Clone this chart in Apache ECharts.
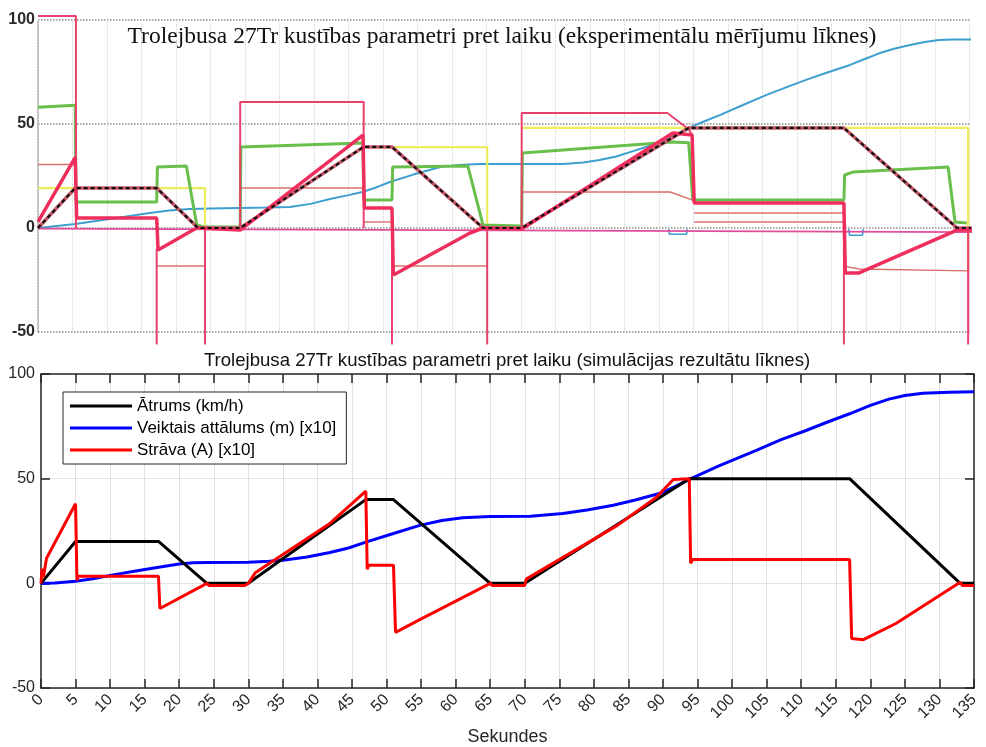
<!DOCTYPE html>
<html>
<head>
<meta charset="utf-8">
<title>Trolejbusa 27Tr kustības parametri</title>
<script src="https://cdn.jsdelivr.net/npm/echarts@6/dist/echarts.min.js"></script>
<style>
  html, body { margin: 0; padding: 0; background: #fff; }
  #chart { width: 986px; height: 747px; }
</style>
</head>
<body>
<div id="chart"></div>
<script>
// --- augšējais grafiks: eksperimentālās līknes (laiks s, vērtība) ---
const expSpeed = [[0, 0], [5.4, 19.2], [17.2, 19.2], [23.2, 0], [29.3, 0], [47.2, 39], [51.3, 39], [64.5, 0], [70.1, 0], [94.3, 48.1], [116.8, 48.1], [133.2, 0], [135.8, 0]]
const expCurrent = [[0, 3], [5.4, 34], [5.6, 4.8], [17.2, 4.8], [17.4, -10.6], [21.7, -2.4], [23, 0], [29.3, -1], [47.1, 44.7], [47.3, 9.6], [51.3, 9.6], [51.5, -22.6], [62.6, -2.4], [64.5, 0], [70.1, -0.5], [92, 45.7], [94.8, 44.7], [95.1, 12], [116.8, 12], [117, -21.6], [119, -21.6], [132.6, -1.9], [133, -1], [135.8, -1]]
const expGreen = [[0, 58], [5.4, 59], [5.5, 12.5], [17.2, 12.5], [17.3, 29.3], [21.5, 29.8], [23, 1.5], [24, 0.5], [29.3, 0.5], [29.4, 38.9], [47.1, 40.9], [47.2, 13.5], [51.3, 13.5], [51.4, 29.3], [62.3, 29.8], [64.5, 1.4], [70.1, 1], [70.2, 36.1], [91.9, 41.3], [94.3, 41], [94.9, 13.5], [116.8, 13.5], [116.9, 25.5], [118.1, 26.9], [131.9, 29.3], [132.9, 2.9], [134.6, 2.4]]
const expBlue = [[0, 0], [5.4, 1.9], [10.4, 4.3], [16.2, 7.2], [19, 8.4], [22, 9.1], [25, 9.4], [29.3, 9.6], [33, 9.8], [36.5, 10.1], [39.5, 11.6], [42.3, 13.9], [45, 15.8], [47, 17.3], [49, 19.5], [51, 22.1], [54.5, 25.8], [58.3, 29.3], [61, 30.3], [64.1, 30.8], [69.9, 30.8], [76.1, 30.8], [79, 31.5], [81.4, 32.7], [83.8, 34.4], [85.8, 36.5], [88, 38.8], [90.1, 41.3], [92.3, 44.6], [94.3, 48.1], [96.5, 51.2], [98.8, 54.3], [102, 58.9], [105.5, 63.9], [108.5, 67.7], [111.3, 71.2], [114.5, 74.9], [117.7, 78.4], [120, 81.5], [122, 84.1], [124.2, 86.3], [126.4, 88], [128.5, 89.4], [130.6, 90.4], [132.5, 90.6], [135.8, 90.6]]
const expBlueDips = [
  [[91.4, -0.5], [91.5, -3], [94, -3], [94.1, -0.5]],
  [[117.5, -0.5], [117.6, -3.5], [119.5, -3.5], [119.6, -0.5]]
]
const expZero = [[0, -0.3], [135.8, -2]]
const expYellow = [
  [[0, 19.2], [24.2, 19.2], [24.2, 0]],
  [[47.2, 38.9], [65.1, 38.9], [65.1, 0]],
  [[70.1, 48.1], [134.8, 48.1], [134.8, -20]]
]
const expBrown = [
  [[0, 30.5], [5.4, 30.5]],
  [[29.3, 19.2], [47.2, 19.2]],
  [[47.2, 2.9], [51.3, 2.9]],
  [[17.2, -18.3], [24.2, -18.3]],
  [[51.3, -18.3], [65.1, -18.3]],
  [[70.1, 17.3], [91.6, 17.3], [94.8, 13.5]],
  [[95.1, 7.2], [116.8, 7.2]],
  [[95.1, 2.9], [116.8, 2.9]],
  [[116.8, -18.3], [119, -19.7], [134.8, -20.6]]
]
const expPink = [
  [[0, 101.9], [5.5, 101.9], [5.5, 0]],
  [[29.3, 0], [29.3, 60.6], [47.2, 60.6], [47.2, 0]],
  [[70.1, 0], [70.1, 55.3], [91.2, 55.3], [94.3, 47.5], [94.8, 44.7]],
  [[17.2, -10], [17.2, -56]],
  [[24.2, 0], [24.2, -56]],
  [[51.3, 9.6], [51.3, -56]],
  [[65.1, 0], [65.1, -56]],
  [[116.8, 12], [116.8, -56]],
  [[134.8, 0], [134.8, -56]]
]

// --- apakšējais grafiks: simulācijas rezultāti ---
const simSpeed = [[0, 0], [5, 20], [17, 20], [24, 0], [30, 0], [47, 40], [51, 40], [65, 0], [70, 0], [93.8, 50], [117, 50], [133, 0], [135, 0]]
const simDistance = [[0, 0], [2, 0.2], [5, 1], [7.5, 2.2], [10, 3.8], [13.5, 5.8], [16.8, 7.6], [20, 9.2], [22, 9.8], [24, 10], [30, 10.1], [33, 10.5], [35, 11], [38.5, 12.6], [41.8, 14.7], [44.5, 16.9], [47, 19.7], [51, 23.8], [54.8, 27.7], [58, 30], [61, 31.3], [65, 31.9], [70.8, 32.1], [75.5, 33.4], [79, 35], [82.8, 37.3], [86, 39.8], [89.6, 43], [91.8, 46.3], [93.8, 49.7], [98, 56], [103.5, 63.5], [107, 68.5], [110.7, 73], [114, 77.3], [117, 81], [120, 85], [122.7, 88], [125, 89.7], [127.6, 90.8], [131.4, 91.3], [135, 91.5]]
const simCurrent = [[0, 0], [0.15, 7], [0.35, 3], [0.8, 12], [5, 38], [5.2, 1.5], [5.4, 3.4], [17, 3.4], [17.2, -12], [24, 0], [24.3, -1], [29.5, -1], [30, 0], [31, 5], [41.8, 28.6], [47, 44], [47.2, 6.7], [47.4, 8.6], [51, 8.6], [51.3, -23.4], [54.6, -17.7], [65, 0], [65.3, -1], [70, -1], [70.2, 2], [83.4, 27.7], [89, 41], [91.5, 49.6], [93.8, 50], [94, 9.6], [94.3, 11.4], [117, 11.4], [117.3, -26.4], [119, -26.9], [123.7, -19.2], [133, 0.5], [133.3, -1], [135, -1]]

const legendNames = ['Ātrums (km/h)', 'Veiktais attālums (m) [x10]', 'Strāva (A) [x10]']
const yTicks = [-50, 0, 50, 100]

const SANS = 'Liberation Sans, Arial, sans-serif'
const AX = '#262626'

// vienkārša līnija augšējam grafikam
const expLine = (data, color, width, extra) => Object.assign({
  type: 'line', xAxisIndex: 0, yAxisIndex: 0, data,
  symbol: 'none', clip: false, silent: true, animation: false,
  lineStyle: { color, width }
}, extra || {})

const expSegments = (list, color, width) => list.map(seg => expLine(seg, color, width))

const simLine = (name, data, color, extra) => Object.assign({
  name, type: 'line', xAxisIndex: 1, yAxisIndex: 1, data,
  symbol: 'none', animation: false, z: 5,
  itemStyle: { color },
  lineStyle: { color, width: 3 }
}, extra || {})

const chart = echarts.init(document.getElementById('chart'), null, { renderer: 'canvas' })

chart.setOption({
  backgroundColor: '#fff',
  animation: false,
  graphic: [
    {
      type: 'text', x: 502, y: 37, z: 10,
      style: {
        text: 'Trolejbusa 27Tr kustības parametri pret laiku (eksperimentālu mērījumu līknes)',
        font: '23.5px "Liberation Serif", "Times New Roman", serif',
        fill: '#111', textAlign: 'center', textVerticalAlign: 'middle'
      }
    },
    {
      type: 'text', x: 507, y: 361, z: 10,
      style: {
        text: 'Trolejbusa 27Tr kustības parametri pret laiku (simulācijas rezultātu līknes)',
        font: '18.6px "Liberation Sans", Arial, sans-serif',
        fill: '#111', textAlign: 'center', textVerticalAlign: 'middle'
      }
    }
  ],
  legend: {
    data: legendNames,
    orient: 'vertical',
    left: 63, top: 392,
    padding: [3, 10, 3, 7],
    itemGap: 0,
    itemWidth: 62, itemHeight: 3,
    icon: 'rect',
    backgroundColor: '#fff',
    borderColor: AX, borderWidth: 1, borderRadius: 0,
    textStyle: { fontFamily: SANS, fontSize: 17, color: '#000', lineHeight: 22 },
    z: 20
  },
  grid: [
    { left: 38, top: 20, width: 931.5, height: 312 },
    { left: 41, top: 374, width: 933, height: 314 }
  ],
  xAxis: [
    {
      gridIndex: 0, type: 'value', min: 0, max: 135, interval: 5,
      axisLine: { show: false }, axisTick: { show: false }, axisLabel: { show: false },
      splitLine: { show: true, lineStyle: { color: '#d2d2d2', type: 'dotted', width: 1 } }
    },
    {
      gridIndex: 1, type: 'value', min: 0, max: 135, interval: 5, position: 'bottom',
      name: 'Sekundes', nameLocation: 'middle', nameGap: 40,
      nameTextStyle: { fontFamily: SANS, fontSize: 18, color: AX },
      axisLine: { show: true, onZero: false, lineStyle: { color: AX, width: 1.5 } },
      axisTick: { show: true, inside: true, length: 9, lineStyle: { color: AX, width: 1.5 } },
      axisLabel: { rotate: 45, margin: 9, fontFamily: SANS, fontSize: 16, color: AX },
      splitLine: { show: true, lineStyle: { color: '#e2e2e2', width: 1 } }
    },
    {
      gridIndex: 1, type: 'value', min: 0, max: 135, interval: 5, position: 'top',
      axisLine: { show: true, onZero: false, lineStyle: { color: AX, width: 1.5 } },
      axisTick: { show: true, inside: true, length: 9, lineStyle: { color: AX, width: 1.5 } },
      axisLabel: { show: false }, splitLine: { show: false }
    }
  ],
  yAxis: [
    {
      gridIndex: 0, type: 'value', min: -50, max: 100, interval: 50,
      axisLine: { show: true, lineStyle: { color: '#aaa', type: 'dotted', width: 1.5 } },
      axisTick: { show: false },
      axisLabel: { margin: 3, fontFamily: SANS, fontSize: 16, fontWeight: 'bold', color: '#2a2a2a',
        customValues: yTicks },
      splitLine: { show: true, lineStyle: { color: '#8c8c8c', type: 'dotted', width: 1.5 } }
    },
    {
      gridIndex: 1, type: 'value', min: -50, max: 100, interval: 50, position: 'left',
      axisLine: { show: true, onZero: false, lineStyle: { color: AX, width: 1.5 } },
      axisTick: { show: true, inside: true, length: 9, lineStyle: { color: AX, width: 1.5 } },
      axisLabel: { margin: 6, fontFamily: SANS, fontSize: 16, color: AX },
      splitLine: { show: true, lineStyle: { color: '#e2e2e2', width: 1 } }
    },
    {
      gridIndex: 1, type: 'value', min: -50, max: 100, interval: 50, position: 'right',
      axisLine: { show: true, onZero: false, lineStyle: { color: AX, width: 1.5 } },
      axisTick: { show: true, inside: true, length: 9, lineStyle: { color: AX, width: 1.5 } },
      axisLabel: { show: false }, splitLine: { show: false }
    }
  ],
  series: [
    // augšējais (eksperiments)
    expLine(expBlue, '#3d9fcf', 2),
    ...expSegments(expBlueDips, '#3d9fcf', 1.6),
    expLine(expZero, '#e04c9c', 1.6),
    ...expSegments(expYellow, '#ecec5c', 2.2),
    expLine(expGreen, '#69bf4b', 3),
    ...expSegments(expBrown, '#d9706a', 1.4),
    ...expSegments(expPink, '#e8416d', 2),
    expLine(expSpeed, '#c85a6a', 3.5),
    expLine(expCurrent, '#ee2f5e', 3.5),
    expLine(expSpeed, '#111', 2.2, { lineStyle: { color: '#111', width: 2.2, type: [4, 3] } }),
    // apakšējais (simulācija)
    simLine(legendNames[1], simDistance, '#0000ff'),
    simLine(legendNames[0], simSpeed, '#000000'),
    simLine(legendNames[2], simCurrent, '#ff0000')
  ]
})
</script>
</body>
</html>
